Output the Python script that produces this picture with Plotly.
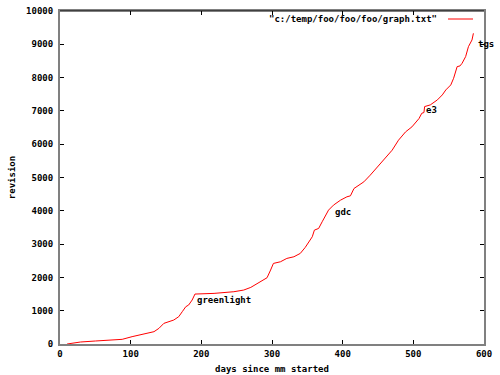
import plotly.graph_objects as go

days = [10, 29, 50, 74, 88, 102, 116, 133, 140, 147, 161, 168, 173, 178, 182, 187, 191,
        218, 246, 260, 270, 284, 293, 298, 302, 312, 321, 331, 340, 347, 352, 357, 360,
        366, 371, 376, 380, 387, 397, 406, 411, 416, 430, 439, 449, 458, 470, 479, 489,
        498, 508, 512, 515, 516, 524, 534, 541, 546, 553, 557, 562, 566, 569, 574, 578,
        583, 585]
revisions = [0, 60, 90, 110, 140, 220, 290, 370, 470, 620, 720, 820, 970, 1120, 1170, 1320, 1500,
             1520, 1570, 1620, 1700, 1870, 1990, 2220, 2420, 2470, 2570, 2620, 2720, 2900, 3050, 3220, 3420,
             3470, 3670, 3870, 4020, 4170, 4320, 4420, 4450, 4670, 4870, 5070, 5320, 5520, 5820, 6120, 6370,
             6520, 6770, 6930, 6950, 7130, 7180, 7330, 7480, 7630, 7780, 7980, 8330, 8350, 8430, 8630, 8930,
             9130, 9330]

label_text = ["greenlight", "gdc", "e3", "tgs"]
label_day = [191, 387, 515, 588]
label_rev = [1320, 3970, 7030, 9000]

x_ticks = [0, 100, 200, 300, 400, 500, 600]
y_ticks = [0, 1000, 2000, 3000, 4000, 5000, 6000, 7000, 8000, 9000, 10000]
y_tick_labels = [str(v) for v in y_ticks]

legend_name = '"c:/temp/foo/foo/foo/graph.txt"'

FONT = "DejaVu Sans Mono"
W, H = 500, 375
L, R, T, B = 60, 484, 11, 344
PW, PH = R - L, B - T

fig = go.Figure()
fig.add_trace(go.Scatter(x=days, y=revisions, mode="lines", name=legend_name,
                         line=dict(color="#ff0000", width=1), showlegend=False))

for t, d, r in zip(label_text, label_day, label_rev):
    fig.add_annotation(x=d, y=r, text=t, showarrow=False, xanchor="left", yanchor="middle",
                       font=dict(family=FONT, size=9, color="black", weight="bold"))

# legend replica (text then line sample to the right, gnuplot style)
ly = 1 - (19 - T) / PH
fig.add_annotation(x=(439 - L) / PW, y=ly, xref="paper", yref="paper", text=legend_name,
                   showarrow=False, xanchor="right", yanchor="middle",
                   font=dict(family=FONT, size=9, color="black", weight="bold"))
fig.add_shape(type="line", xref="paper", yref="paper",
              x0=(448 - L) / PW, x1=(473 - L) / PW, y0=ly, y1=ly,
              line=dict(color="#ff0000", width=1))

axis_common = dict(showline=True, linecolor="#808080", linewidth=2, mirror="ticks",
                   ticks="inside", ticklen=4, tickcolor="black", tickwidth=1,
                   showgrid=False, zeroline=False, automargin=False,
                   tickfont=dict(family=FONT, size=9, color="black", weight="bold"))

fig.update_xaxes(range=[0, 600], tickvals=x_ticks, **axis_common,
                 title=dict(text="days since mm started", standoff=8,
                            font=dict(family=FONT, size=9, color="black", weight="bold")))
fig.update_yaxes(range=[0, 10000], tickvals=y_ticks, ticktext=y_tick_labels, **axis_common,
                 ticklabelstandoff=3,
                 title=dict(text="revision", standoff=9,
                            font=dict(family=FONT, size=9, color="black", weight="bold")))

# black top border
fig.add_shape(type="line", xref="paper", yref="paper", x0=0, x1=1, y0=1, y1=1,
              line=dict(color="black", width=1))

fig.update_layout(width=W, height=H, margin=dict(l=L, r=W - R, t=T, b=H - B),
                  plot_bgcolor="white", paper_bgcolor="white")

fig.write_html("out.html", config={"displayModeBar": False},
               post_script="document.body.style.margin='0';"
                           "document.documentElement.style.overflow='hidden';"
                           "document.body.style.overflow='hidden';")
